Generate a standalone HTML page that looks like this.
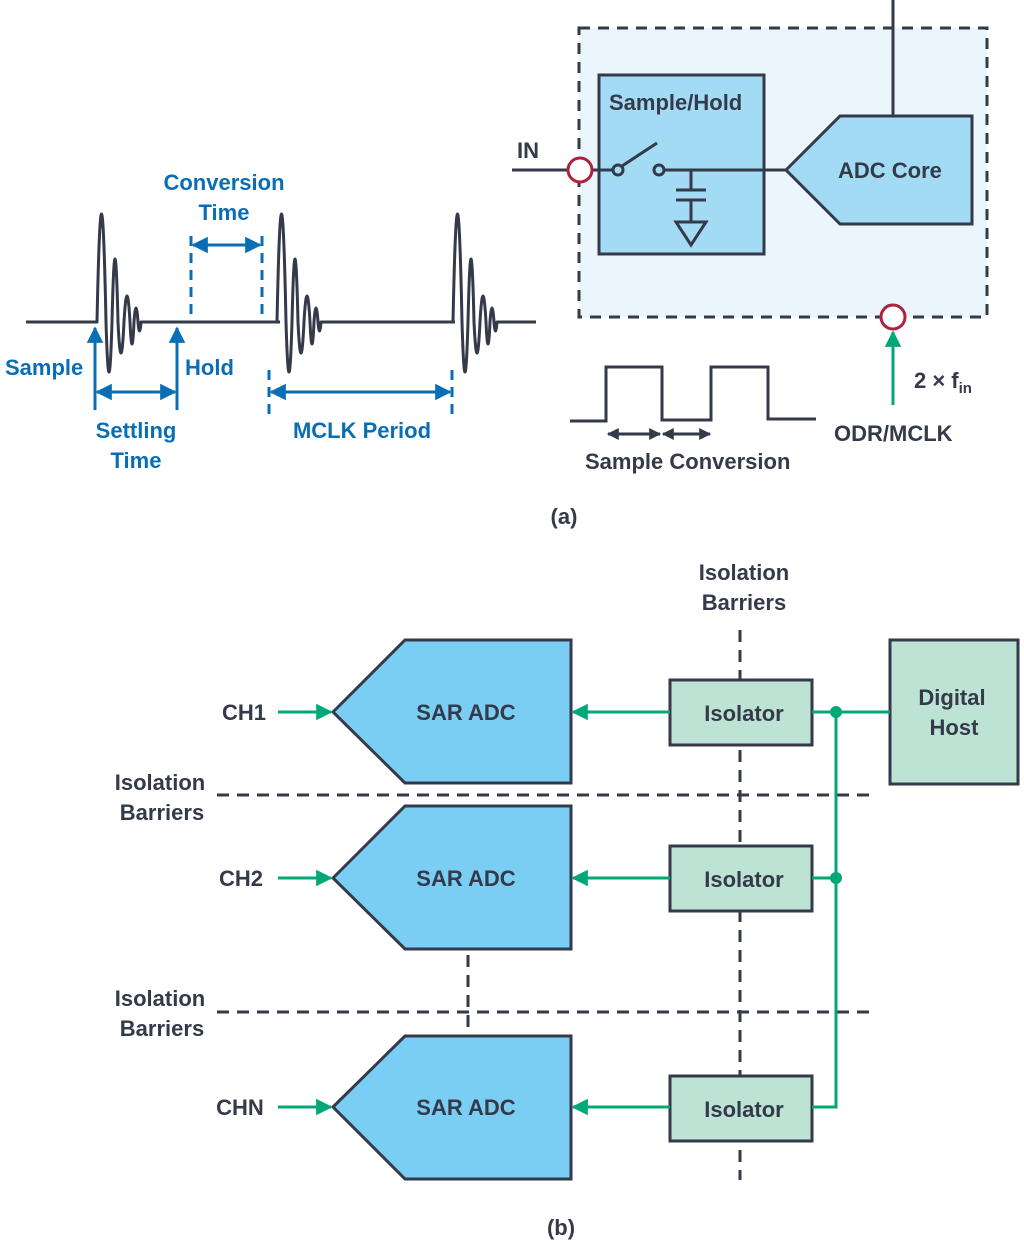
<!DOCTYPE html>
<html><head><meta charset="utf-8"><style>
html,body{margin:0;padding:0;background:#fff}
svg{display:block}
text{font-family:"Liberation Sans",sans-serif;font-weight:bold}
.b{fill:#0a6eb4;font-size:22px}
.d{fill:#343a4a;font-size:22px}
</style></head><body>
<svg width="1024" height="1244" viewBox="0 0 1024 1244" xmlns="http://www.w3.org/2000/svg">
<defs>
<marker id="ab" viewBox="0 0 10 10" refX="9" refY="5" markerWidth="8" markerHeight="5.5" markerUnits="strokeWidth" orient="auto-start-reverse"><path d="M0 0L10 5L0 10z" fill="#0a6eb4"/></marker>
<marker id="ak" viewBox="0 0 10 10" refX="9" refY="5" markerWidth="6" markerHeight="4" markerUnits="strokeWidth" orient="auto-start-reverse"><path d="M0 0L10 5L0 10z" fill="#343a4a"/></marker>
<marker id="ag" viewBox="0 0 10 10" refX="9" refY="5" markerWidth="8.5" markerHeight="5.5" markerUnits="strokeWidth" orient="auto-start-reverse"><path d="M0 0L10 5L0 10z" fill="#00a878"/></marker>
</defs>
<g fill="none" stroke="#343a4a" stroke-width="3" stroke-linejoin="round">
<path d="M26 322 H97 Q101.5 106 106 322 Q109 422 112 322 Q115 196 118 322 Q121 384 124 322 Q127 270 130 322 Q132 366 134 322 Q136 294 138 322 Q139.5 340 141 322 H280"/>
<path d="M277 322 Q281.5 106 286 322 Q289 422 292 322 Q295 196 298 322 Q301 384 304 322 Q307 270 310 322 Q312 366 314 322 Q316 294 318 322 Q319.5 340 321 322 H455"/>
<path d="M453 322 Q457.5 106 462 322 Q465 422 468 322 Q471 196 474 322 Q477 384 480 322 Q483 270 486 322 Q488 366 490 322 Q492 294 494 322 Q495.5 340 497 322 H536"/>
</g>
<g stroke="#0a6eb4" stroke-width="3" fill="none">
<line x1="95" y1="410" x2="95" y2="328" marker-end="url(#ab)"/>
<line x1="177" y1="410" x2="177" y2="328" marker-end="url(#ab)"/>
<line x1="97" y1="392" x2="175" y2="392" marker-start="url(#ab)" marker-end="url(#ab)"/>
<line x1="193" y1="245" x2="260" y2="245" marker-start="url(#ab)" marker-end="url(#ab)"/>
<line x1="271" y1="392" x2="450" y2="392" marker-start="url(#ab)" marker-end="url(#ab)"/>
<line x1="191" y1="236" x2="191" y2="314" stroke-dasharray="10 7"/>
<line x1="262" y1="236" x2="262" y2="314" stroke-dasharray="10 7"/>
<line x1="269" y1="370" x2="269" y2="416" stroke-dasharray="10 7"/>
<line x1="452" y1="370" x2="452" y2="416" stroke-dasharray="10 7"/>
</g>
<text class="b" x="224" y="190" text-anchor="middle">Conversion</text>
<text class="b" x="224" y="220" text-anchor="middle">Time</text>
<text class="b" x="5" y="375">Sample</text>
<text class="b" x="185" y="375">Hold</text>
<text class="b" x="136" y="438" text-anchor="middle">Settling</text>
<text class="b" x="136" y="468" text-anchor="middle">Time</text>
<text class="b" x="362" y="438" text-anchor="middle">MCLK Period</text>
<rect x="579" y="28" width="408" height="289" fill="#eaf5fc" stroke="#343a4a" stroke-width="3" stroke-dasharray="11 8"/>
<rect x="599" y="75" width="165" height="179" fill="#a3dbf5" stroke="#343a4a" stroke-width="3"/>
<polygon points="786,170 840,116 972,116 972,224 840,224" fill="#a3dbf5" stroke="#343a4a" stroke-width="3"/>
<g stroke="#343a4a" stroke-width="3" fill="none">
<line x1="893" y1="0" x2="893" y2="116"/>
<line x1="512" y1="170" x2="568" y2="170"/>
<line x1="592" y1="170" x2="613" y2="170"/>
<circle cx="618" cy="170" r="5"/>
<line x1="622" y1="166" x2="657" y2="143"/>
<circle cx="659" cy="170" r="5"/>
<line x1="664" y1="170" x2="786" y2="170"/>
<line x1="691" y1="170" x2="691" y2="190"/>
<line x1="676" y1="190" x2="706" y2="190"/>
<line x1="676" y1="200" x2="706" y2="200"/>
<line x1="691" y1="200" x2="691" y2="222"/>
<polygon points="676,222 706,222 691,245"/>
<polyline points="570,421 606,421 606,367 662,367 662,420 711,420 711,367 768,367 768,419 816,419"/>
</g>
<g stroke="#343a4a" stroke-width="3">
<line x1="608" y1="434" x2="660" y2="434" marker-start="url(#ak)" marker-end="url(#ak)"/>
<line x1="663" y1="434" x2="710" y2="434" marker-start="url(#ak)" marker-end="url(#ak)"/>
</g>
<circle cx="580" cy="170" r="12" fill="#fff" stroke="#b0213f" stroke-width="3"/>
<circle cx="893" cy="317" r="12" fill="#fff" stroke="#b0213f" stroke-width="3"/>
<line x1="893" y1="405" x2="893" y2="332" stroke="#00a878" stroke-width="3" marker-end="url(#ag)"/>
<text class="d" x="609" y="110">Sample/Hold</text>
<text class="d" x="838" y="178">ADC Core</text>
<text class="d" x="517" y="158">IN</text>
<text class="d" x="914" y="388">2 × f<tspan font-size="15" dy="5">in</tspan></text>
<text class="d" x="834" y="441">ODR/MCLK</text>
<text class="d" x="585" y="469">Sample Conversion</text>
<text class="d" x="564" y="524" text-anchor="middle">(a)</text>
<text class="d" x="744" y="580" text-anchor="middle">Isolation</text>
<text class="d" x="744" y="610" text-anchor="middle">Barriers</text>
<text class="d" x="160" y="790" text-anchor="middle">Isolation</text>
<text class="d" x="162" y="820" text-anchor="middle">Barriers</text>
<text class="d" x="160" y="1006" text-anchor="middle">Isolation</text>
<text class="d" x="162" y="1036" text-anchor="middle">Barriers</text>
<g stroke="#343a4a" stroke-width="3" stroke-dasharray="12 8">
<line x1="740" y1="630" x2="740" y2="1180"/>
<line x1="217" y1="795" x2="870" y2="795"/>
<line x1="217" y1="1012" x2="870" y2="1012"/>
<line x1="468" y1="955" x2="468" y2="1030"/>
</g>
<g fill="#7acef4" stroke="#343a4a" stroke-width="3">
<polygon points="333,712 405,640 571,640 571,783 405,783"/>
<polygon points="333,878 405,806 571,806 571,949 405,949"/>
<polygon points="333,1107 405,1036 571,1036 571,1179 405,1179"/>
</g>
<g fill="#bde3d5" stroke="#343a4a" stroke-width="3">
<rect x="670" y="680" width="142" height="65"/>
<rect x="670" y="846" width="142" height="65"/>
<rect x="670" y="1076" width="142" height="65"/>
<rect x="890" y="640" width="128" height="144"/>
</g>
<g stroke="#00a878" stroke-width="3" fill="none">
<line x1="278" y1="712" x2="331" y2="712" marker-end="url(#ag)"/>
<line x1="278" y1="878" x2="331" y2="878" marker-end="url(#ag)"/>
<line x1="278" y1="1107" x2="331" y2="1107" marker-end="url(#ag)"/>
<line x1="670" y1="712" x2="573" y2="712" marker-end="url(#ag)"/>
<line x1="670" y1="878" x2="573" y2="878" marker-end="url(#ag)"/>
<line x1="670" y1="1107" x2="573" y2="1107" marker-end="url(#ag)"/>
<line x1="812" y1="712" x2="890" y2="712"/>
<line x1="812" y1="878" x2="836" y2="878"/>
<polyline points="836,712 836,1107 812,1107"/>
</g>
<circle cx="836" cy="712" r="6" fill="#00a878"/>
<circle cx="836" cy="878" r="6" fill="#00a878"/>
<text class="d" x="244" y="720" text-anchor="middle">CH1</text>
<text class="d" x="241" y="886" text-anchor="middle">CH2</text>
<text class="d" x="240" y="1115" text-anchor="middle">CHN</text>
<text class="d" x="466" y="720" text-anchor="middle">SAR ADC</text>
<text class="d" x="466" y="886" text-anchor="middle">SAR ADC</text>
<text class="d" x="466" y="1115" text-anchor="middle">SAR ADC</text>
<text class="d" x="744" y="721" text-anchor="middle">Isolator</text>
<text class="d" x="744" y="887" text-anchor="middle">Isolator</text>
<text class="d" x="744" y="1117" text-anchor="middle">Isolator</text>
<text class="d" x="952" y="705" text-anchor="middle">Digital</text>
<text class="d" x="954" y="735" text-anchor="middle">Host</text>
<text class="d" x="561" y="1235" text-anchor="middle">(b)</text>
</svg>
</body></html>
